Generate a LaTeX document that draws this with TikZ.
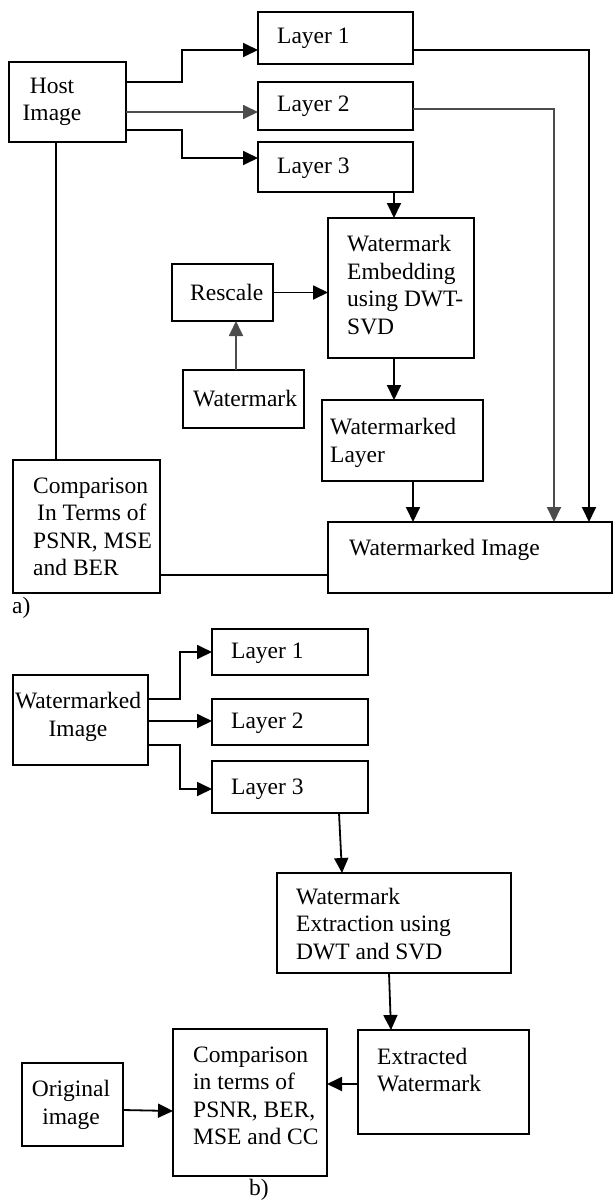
\documentclass[tikz,border=0pt]{standalone}
\usepackage{fontspec}
\setmainfont{Liberation Serif}
\usetikzlibrary{arrows.meta,calc}
\begin{document}
\begin{tikzpicture}[x=1pt,y=-1pt,
  font=\fontsize{23.5}{27.5}\selectfont,
  bx/.style={draw,line width=1.9pt,inner sep=0pt,outer sep=0pt,anchor=north west},
  txt/.style={inner sep=0pt,align=left,anchor=west},
  ctxt/.style={inner sep=0pt,align=center},
  arr/.style={line width=1.8pt,-{Triangle[length=15pt,width=14pt]}},
  ln/.style={line width=1.8pt}]
\useasboundingbox (0,0) rectangle (614,1200);
% ---------- part a ----------
\node[bx,minimum width=117pt,minimum height=80pt] (host) at (9,62) {};
\node[ctxt] (thost) at (52,102) {Host\\Image};
\node[bx,minimum width=155pt,minimum height=52pt] (l1a) at (258,12) {};
\node[txt] (tl1a) at (277,38) {Layer 1};
\node[bx,minimum width=155pt,minimum height=48pt] (l2a) at (258,82) {};
\node[txt] (tl2a) at (277,106) {Layer 2};
\node[bx,minimum width=155pt,minimum height=50pt] (l3a) at (258,142) {};
\node[txt] (tl3a) at (277,168) {Layer 3};
\node[bx,minimum width=146pt,minimum height=140pt] (emb) at (328,218) {};
\node[txt] (temb) at (347,285) {Watermark\\Embedding\\using DWT-\\SVD};
\node[bx,minimum width=101pt,minimum height=57pt] (resc) at (172,264) {};
\node[txt] (tresc) at (190,292) {Rescale};
\node[bx,minimum width=121pt,minimum height=58pt] (wm) at (183,370) {};
\node[txt] (twm) at (193,399) {Watermark};
\node[bx,minimum width=161pt,minimum height=81pt] (wl) at (322,400) {};
\node[txt] (twl) at (330,443) {Watermarked\\Layer};
\node[bx,minimum width=284pt,minimum height=71pt] (wi) at (328,522) {};
\node[txt] (twi) at (349,550) {Watermarked Image};
\node[bx,minimum width=147pt,minimum height=133pt] (cmpa) at (13,460) {};
\node[txt] (tcmpa) at (33,527) {Comparison\\\hspace*{4pt}In Terms of\\PSNR, MSE\\and BER};
\node[txt] (la) at (12,608) {a)};
\draw[arr] (host.east |- 0,82) -- (182,82) |- (l1a.west |- 0,50);
\draw[arr,draw=black!70] (host.east |- 0,112) -- (l2a.west |- 0,112);
\draw[arr] (host.east |- 0,130) -- (182,130) |- (l3a.west |- 0,158);
\draw[arr] (l1a.east |- 0,50) -| (wi.north -| 589,0);
\draw[arr,draw=black!70] (l2a.east |- 0,109) -| (wi.north -| 554,0);
\draw[arr] (l3a.south -| 394,0) -- (emb.north -| 394,0);
\draw[arr] (resc.east) -- (emb.west |- resc.east);
\draw[arr,draw=black!70] (wm.north -| 236,0) -- (resc.south -| 236,0);
\draw[arr] (emb.south -| 394,0) -- (wl.north -| 394,0);
\draw[arr] (wl.south -| 413,0) -- (wi.north -| 413,0);
\draw[ln] (host.south -| 56,0) -- (cmpa.north -| 56,0);
\draw[ln] (cmpa.east |- 0,575) -- (wi.west |- 0,575);
% ---------- part b ----------
\node[bx,minimum width=135pt,minimum height=90pt] (wib) at (13,675) {};
\node[ctxt] (twib) at (78,717) {Watermarked\\Image};
\node[bx,minimum width=156pt,minimum height=46pt] (l1b) at (212,629) {};
\node[txt] (tl1b) at (231,653) {Layer 1};
\node[bx,minimum width=156pt,minimum height=46pt] (l2b) at (212,699) {};
\node[txt] (tl2b) at (231,723) {Layer 2};
\node[bx,minimum width=156pt,minimum height=52pt] (l3b) at (212,761) {};
\node[txt] (tl3b) at (231,789) {Layer 3};
\node[bx,minimum width=234pt,minimum height=100pt] (ext) at (277,873) {};
\node[txt] (text) at (296,924) {Watermark\\Extraction using\\DWT and SVD};
\node[bx,minimum width=171pt,minimum height=104pt] (exw) at (358,1030) {};
\node[txt] (texw) at (377,1070) {Extracted\\Watermark};
\node[bx,minimum width=154pt,minimum height=147pt] (cmpb) at (173,1029) {};
\node[txt] (tcmpb) at (193,1096) {Comparison\\in terms of\\PSNR, BER,\\MSE and CC};
\node[bx,minimum width=101pt,minimum height=83pt] (orig) at (22,1063) {};
\node[ctxt] (torig) at (71,1105) {Original\\image};
\node[ctxt] (lb) at (259,1190) {b)};
\draw[arr] (wib.east |- 0,699) -- (180,699) |- (l1b.west |- 0,652);
\draw[arr] (wib.east |- 0,721) -- (l2b.west |- 0,721);
\draw[arr] (wib.east |- 0,745) -- (180,745) |- (l3b.west |- 0,789);
\draw[arr] (l3b.south -| 339,0) -- (ext.north -| 342,0);
\draw[arr] (ext.south -| 389,0) -- (exw.north -| 391,0);
\draw[arr] (exw.west |- 0,1084) -- (cmpb.east |- 0,1084);
\draw[arr] (orig.east |- 0,1110) -- (cmpb.west |- 0,1111);
\end{tikzpicture}
\end{document}
